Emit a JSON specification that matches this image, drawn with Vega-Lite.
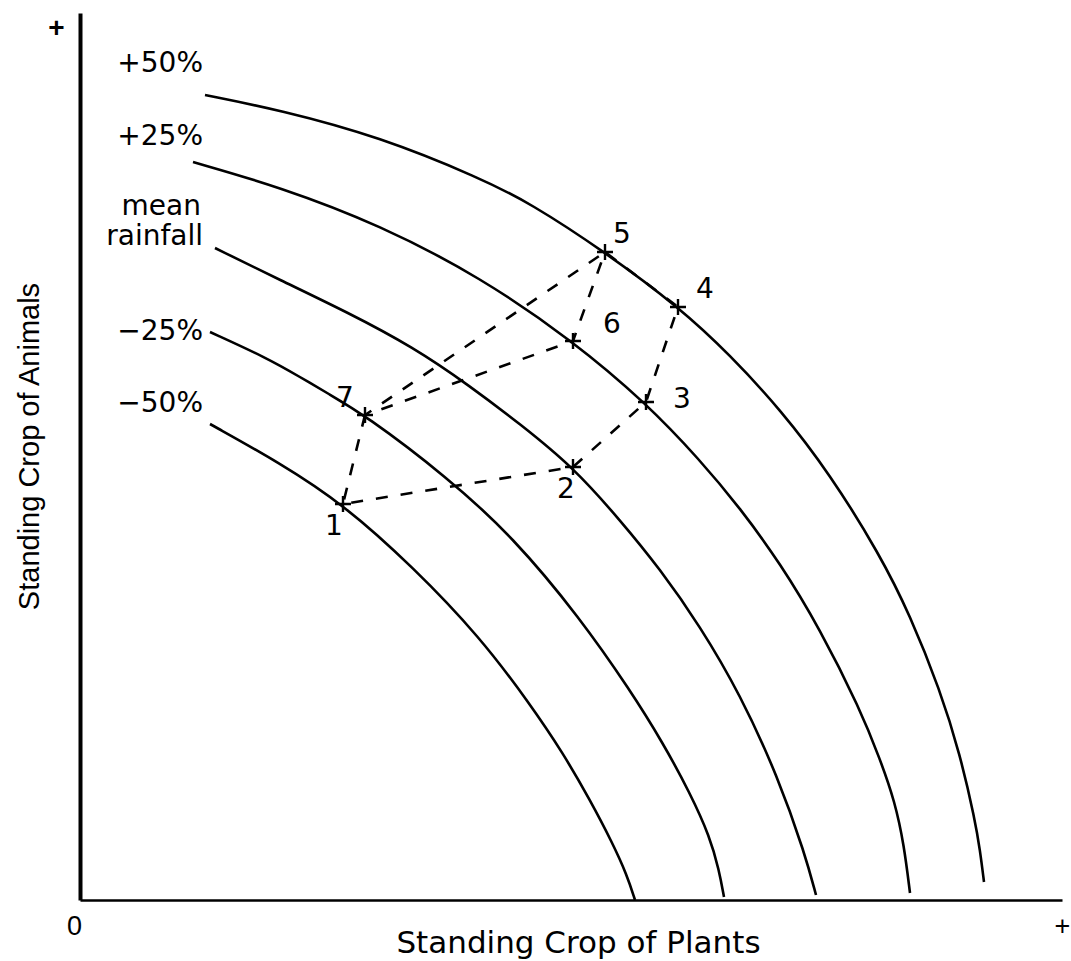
{
  "$schema": "https://vega.github.io/schema/vega-lite/v6.json",
  "width": 982,
  "height": 887,
  "autosize": {"type": "none"},
  "padding": {"left": 80, "top": 13, "right": 9, "bottom": 61},
  "background": "white",
  "config": {"view": {"stroke": null}, "font": "DejaVu Sans"},
  "datasets": {
    "curves": [
      {"curve": "+50%", "x": 125, "y": 805}, {"curve": "+50%", "x": 200, "y": 790}, {"curve": "+50%", "x": 300, "y": 763}, {"curve": "+50%", "x": 400, "y": 722}, {"curve": "+50%", "x": 450, "y": 697}, {"curve": "+50%", "x": 525, "y": 648}, {"curve": "+50%", "x": 600, "y": 592}, {"curve": "+50%", "x": 650, "y": 545}, {"curve": "+50%", "x": 700, "y": 491}, {"curve": "+50%", "x": 750, "y": 426}, {"curve": "+50%", "x": 800, "y": 345}, {"curve": "+50%", "x": 830, "y": 285}, {"curve": "+50%", "x": 860, "y": 210}, {"curve": "+50%", "x": 880, "y": 146}, {"curve": "+50%", "x": 895, "y": 80}, {"curve": "+50%", "x": 900, "y": 50}, {"curve": "+50%", "x": 904, "y": 18},
      {"curve": "+25%", "x": 113, "y": 738}, {"curve": "+25%", "x": 200, "y": 713}, {"curve": "+25%", "x": 300, "y": 675}, {"curve": "+25%", "x": 400, "y": 623}, {"curve": "+25%", "x": 493, "y": 559}, {"curve": "+25%", "x": 566, "y": 497}, {"curve": "+25%", "x": 620, "y": 440}, {"curve": "+25%", "x": 660, "y": 392}, {"curve": "+25%", "x": 700, "y": 337}, {"curve": "+25%", "x": 740, "y": 271}, {"curve": "+25%", "x": 780, "y": 191}, {"curve": "+25%", "x": 800, "y": 141}, {"curve": "+25%", "x": 815, "y": 98}, {"curve": "+25%", "x": 824, "y": 55}, {"curve": "+25%", "x": 830, "y": 7},
      {"curve": "mean", "x": 135, "y": 652}, {"curve": "mean", "x": 200, "y": 620}, {"curve": "mean", "x": 267, "y": 588}, {"curve": "mean", "x": 333, "y": 553}, {"curve": "mean", "x": 390, "y": 514}, {"curve": "mean", "x": 440, "y": 476}, {"curve": "mean", "x": 493, "y": 433}, {"curve": "mean", "x": 540, "y": 380}, {"curve": "mean", "x": 580, "y": 331}, {"curve": "mean", "x": 620, "y": 274}, {"curve": "mean", "x": 660, "y": 206}, {"curve": "mean", "x": 698, "y": 123}, {"curve": "mean", "x": 725, "y": 46}, {"curve": "mean", "x": 736, "y": 5},
      {"curve": "-25%", "x": 130, "y": 568}, {"curve": "-25%", "x": 187, "y": 542}, {"curve": "-25%", "x": 220, "y": 523}, {"curve": "-25%", "x": 247, "y": 507}, {"curve": "-25%", "x": 285, "y": 485}, {"curve": "-25%", "x": 367, "y": 423}, {"curve": "-25%", "x": 433, "y": 363}, {"curve": "-25%", "x": 500, "y": 282}, {"curve": "-25%", "x": 550, "y": 210}, {"curve": "-25%", "x": 583, "y": 157}, {"curve": "-25%", "x": 610, "y": 107}, {"curve": "-25%", "x": 630, "y": 63}, {"curve": "-25%", "x": 639, "y": 30}, {"curve": "-25%", "x": 644, "y": 3},
      {"curve": "-50%", "x": 130, "y": 476}, {"curve": "-50%", "x": 200, "y": 437}, {"curve": "-50%", "x": 263, "y": 396}, {"curve": "-50%", "x": 333, "y": 333}, {"curve": "-50%", "x": 400, "y": 263}, {"curve": "-50%", "x": 450, "y": 196}, {"curve": "-50%", "x": 483, "y": 147}, {"curve": "-50%", "x": 510, "y": 100}, {"curve": "-50%", "x": 532, "y": 58}, {"curve": "-50%", "x": 547, "y": 25}, {"curve": "-50%", "x": 555, "y": 0}
    ],
    "path": [
      {"ord": 1, "id": "7", "x": 285, "y": 485},
      {"ord": 2, "id": "1", "x": 263, "y": 396},
      {"ord": 3, "id": "2", "x": 493, "y": 433},
      {"ord": 4, "id": "3", "x": 566, "y": 498},
      {"ord": 5, "id": "4", "x": 598, "y": 593},
      {"ord": 6, "id": "5", "x": 525, "y": 648},
      {"ord": 7, "id": "6", "x": 493, "y": 559},
      {"ord": 8, "id": "7", "x": 285, "y": 485},
      {"ord": 9, "id": "5", "x": 525, "y": 648}
    ],
    "points": [
      {"id": "1", "x": 263, "y": 396},
      {"id": "2", "x": 493, "y": 433},
      {"id": "3", "x": 566, "y": 498},
      {"id": "4", "x": 598, "y": 593},
      {"id": "5", "x": 525, "y": 648},
      {"id": "6", "x": 493, "y": 559},
      {"id": "7", "x": 285, "y": 485}
    ],
    "pointLabels": [
      {"label": "1", "x": 254, "y": 365},
      {"label": "2", "x": 486, "y": 402},
      {"label": "3", "x": 602, "y": 492},
      {"label": "4", "x": 625, "y": 602},
      {"label": "5", "x": 542, "y": 657},
      {"label": "6", "x": 532, "y": 567},
      {"label": "7", "x": 265, "y": 493}
    ],
    "curveLabels": [
      {"label": "+50%", "x": 123, "y": 828},
      {"label": "+25%", "x": 123, "y": 755},
      {"label": "mean", "x": 121, "y": 685},
      {"label": "rainfall", "x": 123, "y": 655},
      {"label": "−25%", "x": 123, "y": 560},
      {"label": "−50%", "x": 123, "y": 488}
    ]
  },
  "encoding": {
    "x": {
      "field": "x", "type": "quantitative",
      "scale": {"domain": [0, 982], "nice": false, "zero": false},
      "axis": {
        "title": "Standing Crop of Plants",
        "values": [0, 982],
        "labelExpr": "datum.value == 0 ? '0' : '+'",
        "grid": false, "ticks": false, "tickSize": 0,
        "domain": true, "domainColor": "black", "domainWidth": 2.5,
        "labelFlush": false, "labelOverlap": false,
        "labelFont": "Liberation Sans", "labelFontSize": 27, "labelColor": "black",
        "labelBaseline": "middle", "labelPadding": 26,
        "labelOffset": {"condition": {"test": "datum.value == 0", "value": -6}, "value": 0},
        "titleFont": "DejaVu Sans", "titleFontSize": 31, "titleFontWeight": "normal", "titleColor": "black",
        "titleX": 498, "titleY": 52, "titleBaseline": "alphabetic", "titleAlign": "center"
      }
    },
    "y": {
      "field": "y", "type": "quantitative",
      "scale": {"domain": [0, 887], "nice": false, "zero": false},
      "axis": {
        "title": "Standing Crop of Animals",
        "values": [872],
        "labelExpr": "'+'",
        "grid": false, "ticks": false, "tickSize": 0,
        "domain": true, "domainColor": "black", "domainWidth": 4,
        "labelFont": "Liberation Sans", "labelFontSize": 28, "labelFontWeight": "bold", "labelColor": "black",
        "labelAlign": "right", "labelBaseline": "middle", "labelPadding": 16,
        "titleFont": "Liberation Sans", "titleFontSize": 29, "titleFontWeight": "normal", "titleColor": "black",
        "titleAngle": -90, "titleX": -42, "titleY": 433, "titleBaseline": "alphabetic", "titleAlign": "center"
      }
    }
  },
  "layer": [
    {
      "data": {"name": "curves"},
      "mark": {"type": "line", "interpolate": "basis", "color": "black", "strokeWidth": 2.6},
      "encoding": {"detail": {"field": "curve", "type": "nominal"}}
    },
    {
      "data": {"name": "path"},
      "mark": {"type": "line", "color": "black", "strokeWidth": 2.6, "strokeDash": [12, 13]},
      "encoding": {"order": {"field": "ord", "type": "quantitative"}}
    },
    {
      "data": {"name": "points"},
      "mark": {"type": "point", "shape": "M-1,0H1M0,-1V1", "size": 256, "filled": false, "stroke": "black", "strokeWidth": 2.4, "opacity": 1},
      "encoding": {}
    },
    {
      "data": {"name": "pointLabels"},
      "mark": {"type": "text", "font": "DejaVu Sans", "fontSize": 28, "align": "center", "baseline": "alphabetic", "color": "black"},
      "encoding": {"text": {"field": "label", "type": "nominal"}}
    },
    {
      "data": {"name": "curveLabels"},
      "mark": {"type": "text", "font": "DejaVu Sans", "fontSize": 28, "align": "right", "baseline": "alphabetic", "color": "black"},
      "encoding": {"text": {"field": "label", "type": "nominal"}}
    }
  ]
}
